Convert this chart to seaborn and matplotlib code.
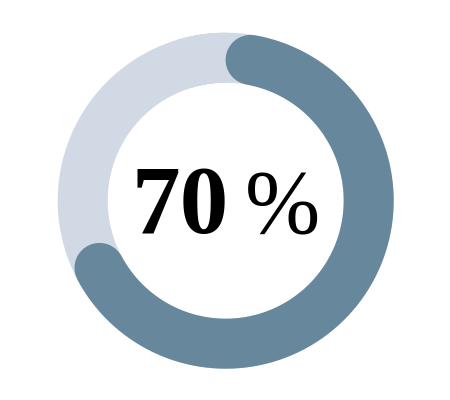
import numpy as np
import pandas as pd
import matplotlib
matplotlib.use("Agg")
import matplotlib.pyplot as plt
import seaborn as sns

# ---- data ----
labels = ["progress"]
values = [70]          # percent
total = 100
label_number = "70"
label_sign = "%"

# ---- style ----
sns.set_theme(style="white")
plt.rcParams["font.family"] = ["Liberation Serif", "DejaVu Serif"]

FG = "#67889c"
BG = "#d0d9e4"

fig = plt.figure(figsize=(4.5, 4.0), dpi=100)
ax = fig.add_axes([0, 0, 1, 1])
ax.set_xlim(0, 450)
ax.set_ylim(400, 0)
ax.set_aspect("equal")
ax.axis("off")

cx, cy, r = 225.7, 200.7, 143.0
ring_px = 50.0
lw_pt = ring_px * 72 / fig.dpi

def arc_frame(a0, a1, n=400):
    th = np.linspace(a0, a1, n)
    return pd.DataFrame({"x": cx + r * np.sin(th), "y": cy - r * np.cos(th), "i": np.arange(n)})

# background track (slight overlap to avoid a seam)
bg = arc_frame(-0.3, 2 * np.pi, 700)
sns.lineplot(data=bg, x="x", y="y", sort=False, estimator=None, ax=ax,
             color=BG, linewidth=lw_pt, solid_capstyle="butt", solid_joinstyle="round")

# progress arc (round caps placed so visual extent equals value)
frac = values[0] / total
cap = (ring_px / 2) / r
fg = arc_frame(cap, 2 * np.pi * frac - cap)
sns.lineplot(data=fg, x="x", y="y", sort=False, estimator=None, ax=ax,
             color=FG, linewidth=lw_pt, solid_capstyle="round")

ax.text(229, 233, label_number, ha="right", va="baseline", fontsize=70,
        fontweight="bold", color="black")
ax.text(245, 233, label_sign, ha="left", va="baseline", fontsize=65,
        fontweight="normal", color="black")

fig.savefig("out.png", dpi=100, facecolor="white")
